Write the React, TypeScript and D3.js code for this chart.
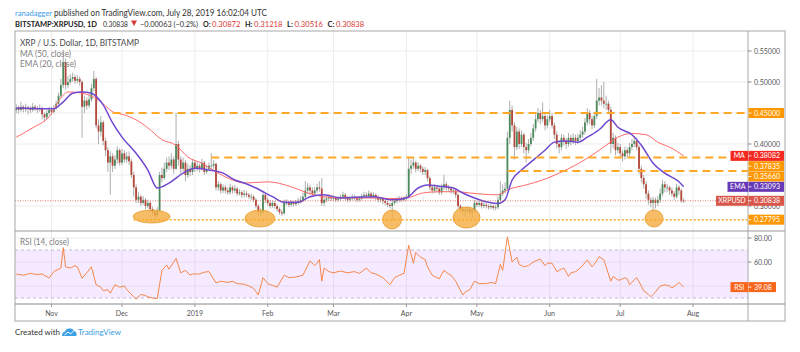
import React, { useEffect, useRef } from 'react'
import * as d3 from 'd3'

// first candle is Oct 17 2018, one candle per day up to Jul 28 2019
const START = new Date(2018, 9, 17)
const END = new Date(2019, 7, 1)

// prices in thousandths of a dollar; open of each day is the previous close
const firstOpen = 455
const closes = [
  // Oct
  458, 455, 460, 456, 459, 457, 455, 460, 457, 456, 458, 448, 443, 450, 455,
  // Nov
  452, 458, 465, 478, 495, 532, 495, 500, 505, 508, 502, 505, 500, 460, 470, 462, 472, 490, 505, 430,
  420, 435, 405, 390, 370, 380, 365, 375, 390, 370,
  // Dec
  385, 375, 380, 372, 350, 330, 310, 315, 305, 310, 300, 305, 295, 290, 285, 292, 350, 345, 360, 370,
  365, 375, 360, 400, 375, 360, 370, 350, 360, 355, 370,
  // Jan
  360, 365, 360, 370, 355, 360, 365, 365, 368, 330, 335, 325, 330, 325, 322, 330, 325, 328, 320, 322,
  318, 320, 318, 315, 315, 310, 300, 290, 290, 318, 310,
  // Feb
  305, 300, 305, 300, 295, 290, 288, 305, 305, 302, 305, 303, 305, 308, 310, 315, 325, 330, 325, 320,
  325, 330, 328, 305, 310, 312, 315, 312,
  // Mar
  313, 310, 312, 315, 318, 313, 310, 312, 315, 313, 310, 312, 316, 318, 316, 320, 315, 318, 314, 310,
  312, 308, 305, 302, 300, 305, 308, 310, 312, 310, 312,
  // Apr
  315, 360, 365, 370, 360, 365, 360, 355, 358, 345, 330, 325, 330, 328, 322, 330, 335, 330, 328, 325,
  325, 318, 300, 295, 292, 293, 295, 290, 292, 305,
  // May
  302, 305, 300, 302, 300, 298, 300, 297, 298, 310, 320, 325, 328, 410, 455, 430, 395, 420, 400, 415,
  395, 390, 400, 410, 425, 440, 450, 440, 445, 430, 440,
  // Jun
  445, 430, 415, 400, 395, 410, 405, 400, 410, 405, 410, 405, 410, 415, 420, 435, 450, 440, 430, 445,
  470, 475, 470, 465, 465, 455, 400, 410, 390, 395,
  // Jul
  385, 380, 390, 385, 395, 400, 405, 395, 360, 345, 335, 320, 310, 305, 310, 305, 310, 320, 335, 330,
  330, 325, 320, 315, 330, 325, 308.72, 308.38,
]
const highs = [
  464, 462, 468, 463, 465, 462, 461, 466, 463, 461, 464, 460, 451, 455, 460,
  460, 463, 470, 483, 505, 552, 538, 510, 513, 515, 512, 511, 509, 503, 478, 475, 480, 497, 518, 508,
  440, 445, 438, 410, 395, 388, 385, 382, 396, 393,
  392, 390, 387, 388, 376, 355, 335, 322, 318, 316, 313, 310, 308, 299, 294, 298, 355, 362, 370, 378,
  380, 385, 380, 450, 405, 380, 378, 374, 368, 366, 376,
  374, 372, 368, 376, 373, 366, 370, 385, 374, 370, 340, 338, 335, 334, 330, 336, 333, 334, 331, 327,
  325, 326, 324, 321, 320, 318, 313, 303, 296, 322, 321,
  314, 309, 309, 308, 303, 298, 294, 310, 311, 308, 309, 308, 310, 313, 316, 322, 340, 337, 334, 330,
  331, 336, 340, 345, 315, 317, 319, 318,
  317, 316, 316, 319, 323, 321, 316, 316, 319, 318, 316, 316, 320, 323, 322, 325, 323, 322, 320, 317,
  315, 314, 311, 308, 305, 309, 312, 314, 316, 315, 316,
  319, 378, 375, 377, 373, 371, 368, 364, 363, 360, 348, 334, 336, 334, 331, 336, 350, 339, 334, 332,
  330, 328, 320, 303, 299, 297, 299, 298, 296, 309,
  308, 309, 308, 306, 305, 303, 304, 302, 302, 315, 340, 335, 338, 420, 470, 462, 435, 428, 425, 422,
  418, 402, 408, 418, 432, 448, 458, 455, 467, 450, 446,
  455, 450, 435, 420, 406, 416, 415, 410, 418, 415, 417, 415, 416, 422, 428, 442, 458, 455, 446, 452,
  505, 490, 495, 500, 478, 470, 460, 418, 414, 402,
  400, 390, 396, 394, 402, 408, 412, 410, 398, 365, 350, 340, 325, 314, 315, 314, 316, 328, 342, 340,
  336, 333, 330, 324, 336, 334, 328, 312.18,
]
const lows = [
  450, 449, 452, 451, 452, 448, 450, 452, 453, 450, 452, 440, 436, 440, 447,
  447, 449, 455, 462, 475, 490, 488, 490, 496, 500, 497, 498, 494, 410, 450, 455, 458, 468, 485, 425,
  400, 412, 398, 380, 355, 318, 355, 360, 368, 365,
  366, 370, 370, 366, 345, 315, 305, 305, 300, 302, 295, 296, 290, 285, 280, 282, 290, 338, 342, 355,
  358, 360, 352, 358, 365, 352, 355, 340, 345, 348, 350,
  355, 356, 354, 357, 350, 352, 356, 360, 360, 325, 325, 320, 321, 320, 318, 318, 320, 321, 316, 317,
  313, 314, 314, 311, 310, 306, 296, 285, 284, 288, 305,
  300, 296, 297, 296, 291, 286, 284, 286, 301, 298, 299, 299, 300, 302, 304, 306, 312, 320, 318, 315,
  316, 321, 323, 300, 300, 306, 308, 308,
  308, 306, 307, 309, 312, 309, 306, 307, 309, 309, 306, 307, 309, 312, 312, 313, 311, 312, 310, 306,
  306, 303, 301, 298, 296, 277, 302, 304, 306, 306, 307,
  309, 312, 352, 360, 354, 356, 354, 350, 350, 340, 325, 320, 321, 322, 318, 318, 326, 325, 323, 320,
  320, 313, 295, 290, 287, 283, 289, 285, 280, 289,
  298, 299, 296, 297, 296, 294, 295, 293, 293, 295, 307, 316, 320, 325, 400, 420, 375, 390, 392, 395,
  385, 370, 385, 396, 405, 420, 435, 432, 435, 422, 425,
  435, 425, 408, 393, 385, 390, 398, 392, 396, 398, 400, 398, 400, 405, 410, 415, 430, 432, 424, 426,
  440, 462, 462, 458, 455, 448, 385, 393, 382, 385,
  378, 372, 375, 378, 380, 390, 395, 390, 352, 338, 328, 312, 302, 298, 290, 296, 300, 305, 316, 322,
  322, 318, 315, 310, 312, 318, 305, 305.16,
]

// indicator readings [day offset, value]
const ma50 = [
  [0, 0.411], [7, 0.426], [14, 0.444], [20, 0.479], [22, 0.484], [28, 0.482], [35, 0.471], [41, 0.452],
  [46, 0.447], [51, 0.439], [56, 0.426], [62, 0.407], [68, 0.398], [73, 0.379], [79, 0.369], [85, 0.355],
  [92, 0.342], [97, 0.337], [107, 0.339], [117, 0.331], [124, 0.321], [131, 0.315], [138, 0.313],
  [152, 0.313], [159, 0.312], [166, 0.313], [173, 0.321], [180, 0.323], [188, 0.323], [193, 0.321],
  [205, 0.318], [209, 0.326], [217, 0.334], [224, 0.342], [231, 0.353], [238, 0.366], [245, 0.382],
  [251, 0.398], [256, 0.411], [262, 0.417], [268, 0.415], [273, 0.403], [279, 0.393], [284, 0.38082],
]
const ema20 = [
  [0, 0.458], [11, 0.457], [16, 0.457], [20, 0.468], [24, 0.482], [28, 0.484], [32, 0.482], [37, 0.463],
  [41, 0.434], [45, 0.411], [51, 0.385], [56, 0.358], [60, 0.329], [65, 0.337], [71, 0.353], [76, 0.361],
  [82, 0.358], [88, 0.353], [93, 0.342], [97, 0.337], [102, 0.329], [109, 0.315], [114, 0.306],
  [120, 0.306], [125, 0.315], [131, 0.318], [138, 0.313], [152, 0.315], [160, 0.31], [166, 0.313],
  [171, 0.329], [175, 0.334], [180, 0.332], [186, 0.329], [190, 0.321], [195, 0.313], [201, 0.306],
  [205, 0.304], [208, 0.31], [211, 0.342], [215, 0.358], [220, 0.374], [225, 0.39], [229, 0.403],
  [234, 0.405], [239, 0.403], [243, 0.411], [248, 0.423], [253, 0.439], [256, 0.427], [262, 0.415],
  [266, 0.398], [271, 0.369], [276, 0.353], [282, 0.339], [284, 0.33093],
]
const rsi14 = [
  [0, 50], [3, 49], [6, 50.5], [9, 49.5], [11, 50], [14, 46.7], [16, 52], [19, 55], [20, 72], [21, 56],
  [23, 55], [25, 57], [26, 56], [28, 46.5], [30, 51], [32, 56], [34, 41], [36, 39], [37, 36], [39, 37],
  [40, 34], [42, 41], [44, 39], [46, 40], [47, 37], [50, 31], [51, 29], [53, 33], [55, 32], [56, 31],
  [58, 30], [60, 29.5], [62, 53], [64, 57.5], [65, 54], [68, 63], [70, 51], [72, 53], [74, 49], [75, 50],
  [78, 50], [80, 51.5], [82, 52], [85, 42.5], [87, 44], [90, 43], [92, 44], [94, 42], [97, 41.5],
  [99, 40], [101, 38], [103, 32.5], [105, 47], [107, 42], [109, 40.5], [111, 39], [114, 49], [116, 47],
  [119, 47.5], [122, 49], [125, 61], [127, 57], [128, 59], [129, 62], [130, 44], [131, 55], [133, 52],
  [135, 51], [138, 52.5], [141, 51], [144, 52], [146, 50.5], [149, 55], [151, 51], [153, 50], [156, 47],
  [159, 41], [161, 47], [163, 49], [165, 50.5], [167, 74], [169, 59], [170, 68], [172, 64], [174, 62],
  [175, 56], [177, 49], [180, 46], [182, 53], [184, 50], [185, 49], [187, 44], [190, 32.5], [191, 35],
  [193, 37], [195, 44], [197, 42], [200, 42], [202, 43], [204, 42], [206, 58], [207, 53], [209, 81],
  [211, 60], [213, 64], [214, 58], [216, 56], [218, 57], [220, 60], [223, 62.5], [225, 57], [226, 59],
  [228, 59], [230, 52], [232, 54], [233, 55], [235, 48], [236, 51], [238, 52], [240, 55], [243, 61.7],
  [245, 56], [246, 58], [248, 64.4], [250, 62], [253, 44], [254, 48], [256, 45], [257, 45], [259, 47],
  [260, 46], [261, 41], [264, 47], [266, 40], [267, 36], [269, 33], [270, 31], [272, 35], [274, 40],
  [276, 41], [278, 40], [279, 38.5], [281, 41], [282, 43], [284, 39.08],
]

// drawn horizontal levels: price, first day offset, style
const levels = [
  { price: 0.45, from: 41, dotted: false },
  { price: 0.37835, from: 83, dotted: false },
  { price: 0.3566, from: 209, dotted: false },
  { price: 0.27795, from: 50, dotted: true },
]
// support touches marked with ellipses: day offset, price, half-width px, half-height px
const touches = [
  [57.6, 0.283, 18.5, 6.5],
  [103.7, 0.2798, 15, 8.5],
  [159.9, 0.2782, 9.5, 9.5],
  [191.6, 0.2814, 13.5, 10.5],
  [271.4, 0.2798, 9, 8.5],
]

const priceTicks = [0.3, 0.35, 0.4, 0.45, 0.5, 0.55]
const rsiTicks = [40, 60, 80]
const monthTicks = [
  new Date(2018, 10, 1), new Date(2018, 11, 1), new Date(2019, 0, 1), new Date(2019, 1, 1),
  new Date(2019, 2, 1), new Date(2019, 3, 1), new Date(2019, 4, 1), new Date(2019, 5, 1),
  new Date(2019, 6, 1), new Date(2019, 7, 1),
]
const monthLabels = ['Nov', 'Dec', '2019', 'Feb', 'Mar', 'Apr', 'May', 'Jun', 'Jul', 'Aug']

const FONT = 'Lato, "Open Sans", sans-serif'

const App = () => {
  const ref = useRef<SVGSVGElement>(null)

  useEffect(() => {
    const svg = d3.select(ref.current)
    svg.selectAll('*').remove()

    const left = 15
    const plotRight = 748
    const right = 785
    const top = 31
    const priceBottom = 231
    const rsiBottom = 304
    const bottom = 321

    const x = d3.scaleTime().domain([START, END]).range([16.25, 693.05])
    const y = d3.scaleLinear().domain([0.4, 0.55]).range([144, 51])
    const yr = d3.scaleLinear().domain([30, 70]).range([298, 250])
    const day = (i: number) => x(d3.timeDay.offset(START, Math.floor(i))) + (i % 1) * 2.35

    svg.append('rect').attr('width', 800).attr('height', 352).attr('fill', '#fff')

    const defs = svg.append('defs')
    defs.append('clipPath').attr('id', 'clipPrice').append('rect')
      .attr('x', left).attr('y', top).attr('width', plotRight - left).attr('height', priceBottom - top)
    defs.append('clipPath').attr('id', 'clipRsi').append('rect')
      .attr('x', left).attr('y', priceBottom).attr('width', plotRight - left).attr('height', rsiBottom - priceBottom)

    // grid
    const grid = svg.append('g').attr('stroke', '#ededed').attr('stroke-width', 1)
    monthTicks.forEach(m => {
      grid.append('line').attr('x1', x(m)).attr('x2', x(m)).attr('y1', top).attr('y2', rsiBottom)
    })
    priceTicks.forEach(p => {
      grid.append('line').attr('x1', left).attr('x2', plotRight).attr('y1', y(p)).attr('y2', y(p))
    })
    rsiTicks.forEach(r => {
      grid.append('line').attr('x1', left).attr('x2', plotRight).attr('y1', yr(r)).attr('y2', yr(r))
    })

    // RSI band
    svg.append('rect')
      .attr('x', left).attr('y', yr(70)).attr('width', plotRight - left).attr('height', yr(30) - yr(70))
      .attr('fill', 'rgba(153, 51, 255, 0.1)')
    ;[70, 30].forEach(r => {
      svg.append('line').attr('x1', left).attr('x2', plotRight).attr('y1', yr(r)).attr('y2', yr(r))
        .attr('stroke', '#b3a9c4').attr('stroke-width', 0.8).attr('stroke-dasharray', '3,3')
    })

    const price = svg.append('g').attr('clip-path', 'url(#clipPrice)')

    // candles
    const candles = closes.map((c, i) => ({
      date: d3.timeDay.offset(START, i),
      open: (i === 0 ? firstOpen : closes[i - 1]) / 1000,
      high: highs[i] / 1000,
      low: lows[i] / 1000,
      close: c / 1000,
    }))
    const cg = price.append('g')
    cg.selectAll('line').data(candles).enter().append('line')
      .attr('x1', d => x(d.date)).attr('x2', d => x(d.date))
      .attr('y1', d => y(d.high)).attr('y2', d => y(d.low))
      .attr('stroke', '#999').attr('stroke-width', 0.8)
    cg.selectAll('rect').data(candles).enter().append('rect')
      .attr('x', d => x(d.date) - 0.9).attr('width', 1.8)
      .attr('y', d => y(Math.max(d.open, d.close)))
      .attr('height', d => Math.max(0.8, Math.abs(y(d.open) - y(d.close))))
      .attr('fill', d => (d.close >= d.open ? '#4b8a5c' : '#b4463a'))

    // moving averages
    const avgLine = d3.line<number[]>().x(d => day(d[0])).y(d => y(d[1])).curve(d3.curveMonotoneX)
    price.append('path').attr('d', avgLine(ma50)).attr('fill', 'none')
      .attr('stroke', '#ff6b6b').attr('stroke-width', 1)
    price.append('path').attr('d', avgLine(ema20)).attr('fill', 'none')
      .attr('stroke', '#7048d0').attr('stroke-width', 1.5)

    // support ellipses
    touches.forEach(([d, p, rx, ry]) => {
      price.append('ellipse').attr('cx', day(d)).attr('cy', y(p)).attr('rx', rx).attr('ry', ry)
        .attr('fill', '#f5ad40').attr('fill-opacity', 0.8).attr('stroke', '#e59a2c').attr('stroke-width', 0.8)
    })

    // horizontal levels
    levels.forEach(l => {
      price.append('line')
        .attr('x1', day(l.from)).attr('x2', plotRight).attr('y1', y(l.price)).attr('y2', y(l.price))
        .attr('stroke', '#ffa726').attr('stroke-width', l.dotted ? 1.5 : 2)
        .attr('stroke-dasharray', l.dotted ? '2,2' : '8,5')
    })

    // last price line
    const last = candles[candles.length - 1]
    price.append('line').attr('x1', left).attr('x2', plotRight).attr('y1', y(last.close)).attr('y2', y(last.close))
      .attr('stroke', '#d75442').attr('stroke-width', 0.8).attr('stroke-dasharray', '1,1.5')

    // RSI
    svg.append('g').attr('clip-path', 'url(#clipRsi)').append('path')
      .attr('d', d3.line<number[]>().x(d => day(d[0])).y(d => yr(d[1]))(rsi14))
      .attr('fill', 'none').attr('stroke', '#f5874a').attr('stroke-width', 1)

    // frame and separators
    svg.append('rect').attr('x', left).attr('y', top).attr('width', right - left).attr('height', bottom - top)
      .attr('fill', 'none').attr('stroke', '#a8a8a8')
    svg.append('line').attr('x1', left).attr('x2', right).attr('y1', priceBottom).attr('y2', priceBottom)
      .attr('stroke', '#999')
    svg.append('line').attr('x1', left).attr('x2', right).attr('y1', rsiBottom).attr('y2', rsiBottom)
      .attr('stroke', '#888')
    svg.append('line').attr('x1', plotRight).attr('x2', plotRight).attr('y1', top).attr('y2', bottom)
      .attr('stroke', '#a8a8a8')

    // price axis
    const axisText = (g: any, yy: number, t: string, color = '#555') =>
      g.append('text').attr('x', 754).attr('y', yy + 2.5).attr('font-size', 7).attr('fill', color)
        .attr('font-family', FONT).text(t)
    priceTicks.forEach(p => {
      svg.append('line').attr('x1', plotRight).attr('x2', plotRight + 3.5).attr('y1', y(p)).attr('y2', y(p))
        .attr('stroke', '#888')
      axisText(svg, y(p), p.toFixed(5))
    })
    rsiTicks.filter(r => r !== 40).forEach(r => {
      svg.append('line').attr('x1', plotRight).attr('x2', plotRight + 3.5).attr('y1', yr(r)).attr('y2', yr(r))
        .attr('stroke', '#888')
      axisText(svg, yr(r), r.toFixed(2))
    })

    const tags = [
      { value: 0.45, text: '0.45000', color: '#ff9800', tag: '', tagX: 0 },
      { value: 0.38082, text: '0.38082', color: '#f42a22', tag: 'MA', tagX: 730.5 },
      { value: 0.37835, text: '0.37835', color: '#ff9800', tag: '', tagX: 0 },
      { value: 0.3566, text: '0.35660', color: '#ff9800', tag: '', tagX: 0 },
      { value: 0.33093, text: '0.33093', color: '#673ab7', tag: 'EMA', tagX: 727.5 },
      { value: last.close, text: '0.30838', color: '#d9574a', tag: 'XRPUSD', tagX: 716 },
      { value: 0.27795, text: '0.27795', color: '#ff9800', tag: '', tagX: 0 },
    ].map(t => ({ ...t, y: y(t.value) }))
    tags.sort((a, b) => a.y - b.y)
    tags.forEach((t, i) => {
      if (i > 0 && t.y < tags[i - 1].y + 10.3) t.y = tags[i - 1].y + 10.3
    })
    const drawTag = (yy: number, text: string, color: string, tag: string, tagX: number, boxRight: number) => {
      if (tag) {
        svg.append('rect').attr('x', tagX).attr('y', yy - 5).attr('width', plotRight - tagX).attr('height', 10)
          .attr('fill', color)
        svg.append('text').attr('x', (tagX + plotRight) / 2).attr('y', yy + 2.5).attr('text-anchor', 'middle')
          .attr('font-size', 7).attr('fill', '#fff').attr('font-family', FONT).text(tag)
      }
      svg.append('rect').attr('x', plotRight + 0.5).attr('y', yy - 5).attr('width', boxRight - plotRight - 0.5)
        .attr('height', 10).attr('fill', color)
      svg.append('line').attr('x1', plotRight).attr('x2', plotRight + 3.5).attr('y1', yy).attr('y2', yy)
        .attr('stroke', '#fff').attr('stroke-width', 0.8)
      axisText(svg, yy, text, '#fff')
    }
    tags.forEach(t => drawTag(t.y, t.text, t.color, t.tag, t.tagX, right - 1))
    drawTag(yr(39.08), '39.08', '#f8661c', 'RSI', 730.5, 776)

    // time axis
    monthTicks.forEach((m, i) => {
      svg.append('line').attr('x1', x(m)).attr('x2', x(m)).attr('y1', rsiBottom).attr('y2', rsiBottom + 3)
        .attr('stroke', '#999')
      svg.append('text').attr('x', x(m)).attr('y', 315.5).attr('text-anchor', 'middle')
        .attr('font-size', 7).attr('fill', '#555').attr('font-family', FONT).text(monthLabels[i])
    })

    // fitted text helper
    const fit = (xx: number, yy: number, t: string, w: number, color: string, size = 8.5, bold = false) =>
      svg.append('text').attr('x', xx).attr('y', yy).attr('font-size', size).attr('fill', color)
        .attr('font-weight', bold ? 700 : 400)
        .attr('font-family', FONT).attr('textLength', w).attr('lengthAdjust', 'spacingAndGlyphs').text(t)

    // legends
    fit(20, 45.5, 'XRP / U.S. Dollar, 1D, BITSTAMP', 119, '#4a4a4a')
    fit(20, 56.5, 'MA (50, close)', 51, '#808080')
    fit(20, 67, 'EMA (20, close)', 56, '#808080')
    fit(20, 244.5, 'RSI (14, close)', 49, '#808080')

    // header
    fit(15, 15.5, 'ranadagger', 37, '#3d9be9', 7.8)
    fit(54, 15.5, 'published on TradingView.com, July 28, 2019 16:02:04 UTC', 213, '#333', 8.5)
    const red = '#d83a35'
    const header: [number, string, number, string, boolean][] = [
      [15, 'BITSTAMP:XRPUSD, 1D', 82, '#222', true],
      [103, '0.30838', 25, '#333', false],
      [140, '−0.00063 (−0.2%)', 58, '#333', false],
      [203, 'O:', 7.5, '#222', true],
      [212, '0.30872', 28.5, red, false],
      [245, 'H:', 7.5, '#222', true],
      [254, '0.31218', 28.5, red, false],
      [287, 'L:', 6, '#222', true],
      [294.5, '0.30516', 28.5, red, false],
      [327.5, 'C:', 7, '#222', true],
      [336, '0.30838', 28, red, false],
    ]
    header.forEach(([xx, t, w, c, b]) => fit(xx, 26.5, t, w, c, 7.6, b))
    svg.append('path').attr('d', 'M131,20.5 L137,20.5 L134,26 Z').attr('fill', red)

    // footer
    fit(15, 335, 'Created with', 45, '#333', 8)
    const logo = svg.append('g').attr('transform', 'translate(62, 328)')
    logo.append('path').attr('d', 'M0,8 Q0,4 3,3.5 Q4,0 8,0.5 Q11,0 12,3 Q15,3.5 14.5,8 Z').attr('fill', '#3ba0e6')
    logo.append('path').attr('d', 'M2.5,7 L6,4 L8.5,6 L12,2.5').attr('fill', 'none').attr('stroke', '#fff')
      .attr('stroke-width', 1)
    fit(78, 335, 'TradingView', 43, '#3ba0e6', 8)
  }, [])

  return (
    <svg ref={ref} width={800} height={352} style={{ position: 'absolute', left: 0, top: 0 }} />
  )
}

export default App
